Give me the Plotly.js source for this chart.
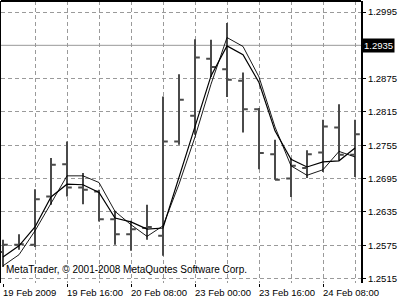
<!DOCTYPE html>
<html>
<head>
<meta charset="utf-8">
<script src="https://cdn.plot.ly/plotly-3.0.1.min.js"></script>
<style>html,body{margin:0;padding:0;background:#fff;}#chart{width:400px;height:300px;}</style>
</head>
<body>
<div id="chart"></div>
<script>
// bar index (4-hour bars, weekend gap removed)
const barIndex = [0,1,2,3,4,5,6,7,8,9,10,11,12,13,14,15,16,17,18,19,20,21,22];
const openPrices  = [1.2563,1.2576,1.2576,1.2663,1.2721,1.2679,1.2672,1.2622,1.2595,1.2606,1.2592,1.2762,1.2808,1.2911,1.2892,1.2871,1.2820,1.2739,1.2695,1.2714,1.2742,1.2787,1.2738];
const highPrices  = [1.2585,1.2595,1.2676,1.2732,1.2762,1.2705,1.2675,1.2637,1.2619,1.2648,1.2843,1.2883,1.2946,1.2945,1.2975,1.2886,1.2822,1.2765,1.2732,1.2746,1.2801,1.2829,1.2801];
const lowPrices   = [1.2536,1.2567,1.2572,1.2648,1.2663,1.2649,1.2618,1.2576,1.2565,1.2585,1.2556,1.2756,1.2774,1.2878,1.2842,1.2778,1.2712,1.2693,1.2662,1.2696,1.2707,1.2727,1.2698];
const closePrices = [1.2576,1.2577,1.2658,1.2720,1.2679,1.2675,1.2622,1.2595,1.2604,1.2608,1.2762,1.2837,1.2913,1.2896,1.2873,1.2820,1.2741,1.2693,1.2718,1.2739,1.2789,1.2738,1.2775];
const maLineA = [1.2554,1.2574,1.2608,1.2662,1.2685,1.2684,1.2670,1.2624,1.2617,1.2604,1.2606,1.2696,1.2788,1.2880,1.2934,1.2918,1.2868,1.2781,1.2730,1.2716,1.2725,1.2727,1.2750];
const maLineB = [1.2538,1.2558,1.2601,1.2651,1.2700,1.2700,1.2688,1.2636,1.2612,1.2591,1.2610,1.2685,1.2770,1.2865,1.2949,1.2933,1.2878,1.2788,1.2718,1.2701,1.2711,1.2744,1.2734];
const timeTickIndex = [0,4,8,12,16,20];
const timeTickLabels = ['19 Feb 2009','19 Feb 16:00','20 Feb 08:00','23 Feb 00:00','23 Feb 16:00','24 Feb 08:00'];
const gridIndex = [2,4,6,8,10,12,14,16,18,20,22];
const priceTicks = [1.2515,1.2575,1.2635,1.2695,1.2755,1.2815,1.2875,1.2995];
const priceTickLabels = ['1.2515','1.2575','1.2635','1.2695','1.2755','1.2815','1.2875','1.2995'];
const priceLevel = 1.2935;
const priceLevelLabel = '1.2935';
const watermark = 'MetaTrader, © 2001-2008 MetaQuotes Software Corp.';

const barColor = '#4a4a4a';
const font = 'Liberation Sans, Arial, sans-serif';

const traces = [
  {
    type: 'ohlc', x: barIndex, open: openPrices, high: highPrices, low: lowPrices, close: closePrices,
    increasing: {line: {color: barColor, width: 2}},
    decreasing: {line: {color: barColor, width: 2}},
    tickwidth: 0.3, hoverinfo: 'skip', showlegend: false
  },
  {type: 'scatter', mode: 'lines', x: barIndex, y: maLineA, line: {color: '#000', width: 1.2}, hoverinfo: 'skip', showlegend: false},
  {type: 'scatter', mode: 'lines', x: barIndex, y: maLineB, line: {color: '#000', width: 0.9}, hoverinfo: 'skip', showlegend: false}
];

const annotations = [
  {xref: 'paper', x: 1, xanchor: 'left', xshift: 1, yref: 'y', y: priceLevel, yanchor: 'middle',
   text: priceLevelLabel, showarrow: false, bgcolor: '#000', borderpad: 1,
   font: {family: font, size: 9.5, color: '#fff'}},
  {xref: 'paper', x: 0, xanchor: 'left', xshift: 3, yref: 'paper', y: 0, yanchor: 'bottom', yshift: 6,
   text: watermark, showarrow: false, font: {family: font, size: 10, color: '#000'}}
];
timeTickIndex.forEach((ix, k) => {
  annotations.push({xref: 'x', x: ix, xanchor: 'left', xshift: -2, yref: 'paper', y: 0, yanchor: 'top', yshift: -2,
    text: timeTickLabels[k], showarrow: false, font: {family: font, size: 9.5, color: '#000'}});
});

const layout = {
  width: 400, height: 300,
  margin: {l: 1, r: 39, t: 1, b: 17, pad: 0},
  paper_bgcolor: '#fff', plot_bgcolor: '#fff',
  font: {family: font, size: 9.5, color: '#000'},
  showlegend: false,
  xaxis: {
    range: [-0.125, 22.375], rangeslider: {visible: false},
    tickmode: 'array', tickvals: timeTickIndex, showticklabels: false,
    ticks: 'outside', ticklen: 3, tickwidth: 1, tickcolor: '#000',
    showgrid: false, zeroline: false, showline: false,
    minor: {tickmode: 'array', tickvals: gridIndex, showgrid: true, gridcolor: '#9a9a9a', griddash: '4px,3px', gridwidth: 1, ticks: ''}
  },
  yaxis: {
    side: 'right', range: [1.250706, 1.30148],
    tickmode: 'array', tickvals: priceTicks, ticktext: priceTickLabels,
    ticks: 'outside', ticklen: 3, tickwidth: 1, tickcolor: '#000',
    showgrid: true, gridcolor: '#9a9a9a', griddash: '4px,3px', gridwidth: 1,
    zeroline: false, showline: true, linecolor: '#000', linewidth: 2, mirror: true,
    tickfont: {family: font, size: 9.5, color: '#000'}
  },
  shapes: [
    {type: 'line', xref: 'paper', x0: 0, x1: 1, yref: 'y', y0: priceLevel, y1: priceLevel, line: {color: '#999', width: 1}, layer: 'below'},
    {type: 'line', xref: 'paper', x0: 0, x1: 1, yref: 'paper', y0: 1, y1: 1, line: {color: '#000', width: 2}}
  ],
  annotations: annotations
};

Plotly.newPlot('chart', traces, layout, {staticPlot: true, displayModeBar: false});
</script>
</body>
</html>
